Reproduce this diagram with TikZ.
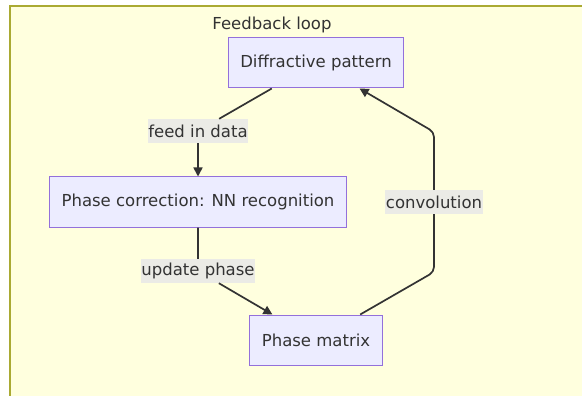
\documentclass[tikz,border=0pt]{standalone}
\usepackage{fontspec}
\setmainfont{DejaVu Sans}
\usetikzlibrary{arrows.meta}
\definecolor{clusterbg}{HTML}{FFFFDE}
\definecolor{clusterline}{HTML}{AAAA33}
\definecolor{nodebg}{HTML}{ECECFF}
\definecolor{nodeline}{HTML}{9370DB}
\definecolor{edgeline}{HTML}{333333}
\definecolor{labelbg}{HTML}{E8E8E8}
\definecolor{textmain}{HTML}{333333}

\begin{document}
\begin{tikzpicture}[x=1pt, y=-1pt,
    font=\fontsize{16.5}{20}\selectfont, text=textmain,
    box/.style={draw=nodeline, fill=nodebg, line width=1pt,
                inner xsep=12pt, minimum height=50pt},
    edgelabel/.style={fill=labelbg, fill opacity=0.85, text opacity=1,
                      inner xsep=0.5pt, inner ysep=0pt, minimum height=24pt},
    flow/.style={draw=edgeline, line width=1.7pt, rounded corners=5pt,
                 -{Triangle[length=9pt, width=9pt]}}]
    \useasboundingbox (0,0) rectangle (582,396);
    % cluster frame, runs off the right and bottom edge
    \fill[white] (0,0) rectangle (582,396);
    \fill[clusterbg] (10,6) rectangle (582,396);
    \draw[clusterline, line width=2pt] (582,6) -| (10,396);
    \node (title) at (272,25) {Feedback loop};

    \node[box] (diff) at (316,63) {Diffractive pattern};
    \node[box] (corr) at (198,202) {Phase correction: NN recognition};
    \node[box] (mat) at (316,340) {Phase matrix};

    \node[edgelabel] (feed) at (198,131) {feed in data};
    \node[edgelabel] (upd) at (198,271) {update phase};
    \node[edgelabel] (conv) at (434,202) {convolution};
    \coordinate (convlow) at (434,272);
    \coordinate (convhigh) at (434,132);

    \draw[flow] (diff) -- (feed) -- (corr);
    \draw[flow] (corr) -- (upd) -- (mat);
    \draw[flow] (mat) -- (convlow) -- (conv) -- (convhigh) -- (diff);
  \end{tikzpicture}
\end{document}
